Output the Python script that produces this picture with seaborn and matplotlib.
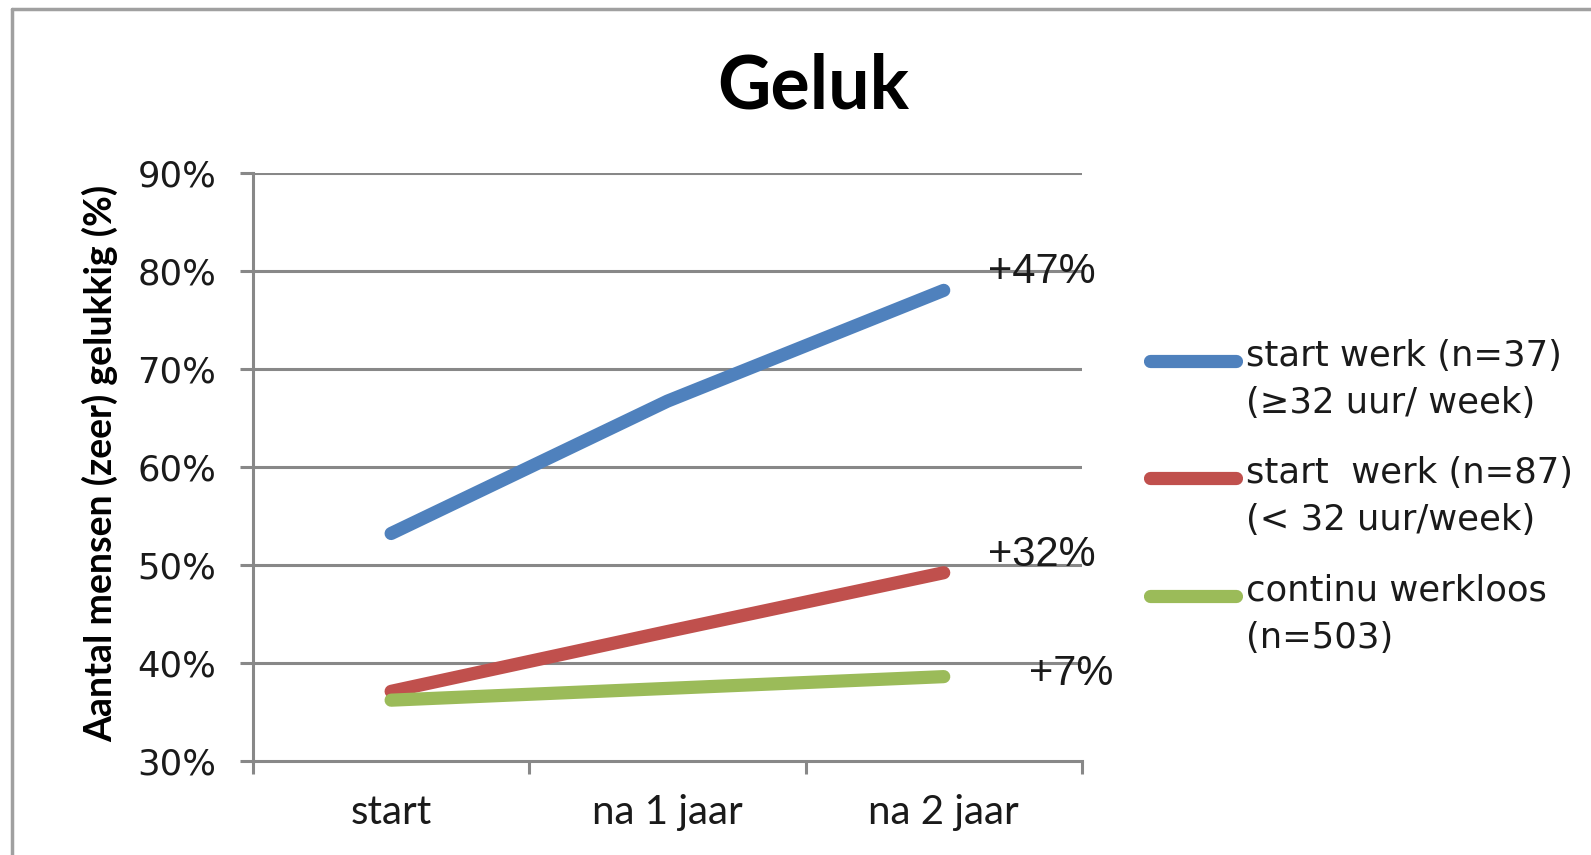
import numpy as np
import pandas as pd
import matplotlib
matplotlib.use("Agg")
import matplotlib.pyplot as plt
import seaborn as sns
from matplotlib.lines import Line2D
from matplotlib.ticker import FixedLocator, NullFormatter

# data
perioden = ["start", "na 1 jaar", "na 2 jaar"]
series = ["voltijd", "deeltijd", "werkloos"]
voltijd = [53.2, 66.7, 78.0]
deeltijd = [37.1, 43.2, 49.2]
werkloos = [36.2, 37.4, 38.6]
kleuren = ["#4F81BD", "#C0504D", "#9BBB59"]
legend_labels = ["start werk (n=37)\n(\u226532 uur/ week)",
                 "start  werk (n=87)\n(< 32 uur/week)",
                 "continu werkloos\n(n=503)"]
toename = ["+47%", "+32%", "+7%"]
yticks = [30, 40, 50, 60, 70, 80, 90]

df = pd.DataFrame({
    "periode": perioden * 3,
    "serie": np.repeat(series, 3),
    "waarde": voltijd + deeltijd + werkloos,
})

sns.set_style("white")
plt.rcParams["font.family"] = ["DejaVu Sans"]
plt.rcParams["text.color"] = "#1a1a1a"

fig = plt.figure(figsize=(15.91, 8.55), dpi=100)
ax = fig.add_axes([0.159, 0.110, 0.521, 0.688])

sns.lineplot(data=df, x="periode", y="waarde", hue="serie", palette=kleuren,
             linewidth=9.5, solid_capstyle="round", legend=False, sort=False, ax=ax)

grijs = "#888888"
ax.set_xlim(-0.5, 2.5)
ax.set_ylim(30, 90)
ax.set_yticks(yticks)
ax.set_yticklabels([f"{v}%" for v in yticks])
for v in yticks[1:]:
    ax.axhline(v, color=grijs, lw=2.2, zorder=0)

# category ticks between the categories, labels in the middle
ax.xaxis.set_major_locator(FixedLocator([-0.5, 0.5, 1.5, 2.5]))
ax.xaxis.set_major_formatter(NullFormatter())
ax.xaxis.set_minor_locator(FixedLocator([0, 1, 2]))
ax.set_xticklabels(perioden, minor=True)
ax.tick_params(axis="x", which="major", direction="out", length=9, width=2.2, color=grijs, bottom=True)
ax.tick_params(axis="x", which="minor", length=0, pad=24, labelsize=29, labelcolor="#1a1a1a")
for t in ax.get_xticklabels(minor=True):
    t.set_family("Lato")
ax.tick_params(axis="y", direction="out", length=9.5, width=2.2, color=grijs, pad=17,
               labelsize=25.5, labelcolor="#1a1a1a", left=True)
ax.set_xlabel("")
ax.set_ylabel("")

for s in ["top", "right"]:
    ax.spines[s].set_visible(False)
for s in ["left", "bottom"]:
    ax.spines[s].set_color(grijs)
    ax.spines[s].set_linewidth(2.2)

# change labels at the line ends
pos = [(2.16, 79.9), (2.16, 51.0), (2.31, 38.9)]
for txt, (x, y) in zip(toename, pos):
    ax.text(x, y, txt, fontsize=30, family="Liberation Sans", va="center", ha="left")

fig.text(0.511, 0.898, "Geluk", fontsize=53, fontweight="bold", family="Lato",
         ha="center", va="center", color="black")
fig.text(0.063, 0.458, "Aantal mensen (zeer) gelukkig (%)", fontsize=27, fontweight="bold",
         family="Lato", rotation=90, ha="center", va="center", color="black")

# legend, handle next to first text line
ly = [0.578, 0.441, 0.303]
for kleur, lab, y in zip(kleuren, legend_labels, ly):
    fig.add_artist(Line2D([0.723, 0.777], [y, y], color=kleur, lw=9.5,
                          solid_capstyle="round", transform=fig.transFigure))
    fig.text(0.783, y + 0.026, lab, fontsize=25.5, va="top", ha="left", linespacing=1.5)

# chart border, cut off at top and left
fig.add_artist(Line2D([0.0076, 0.0076], [0, 0.99], color="#a0a0a0", lw=2.5, transform=fig.transFigure))
fig.add_artist(Line2D([0.0076, 1.0], [0.99, 0.99], color="#a0a0a0", lw=2.5, transform=fig.transFigure))

fig.savefig("out.png", dpi=100)
